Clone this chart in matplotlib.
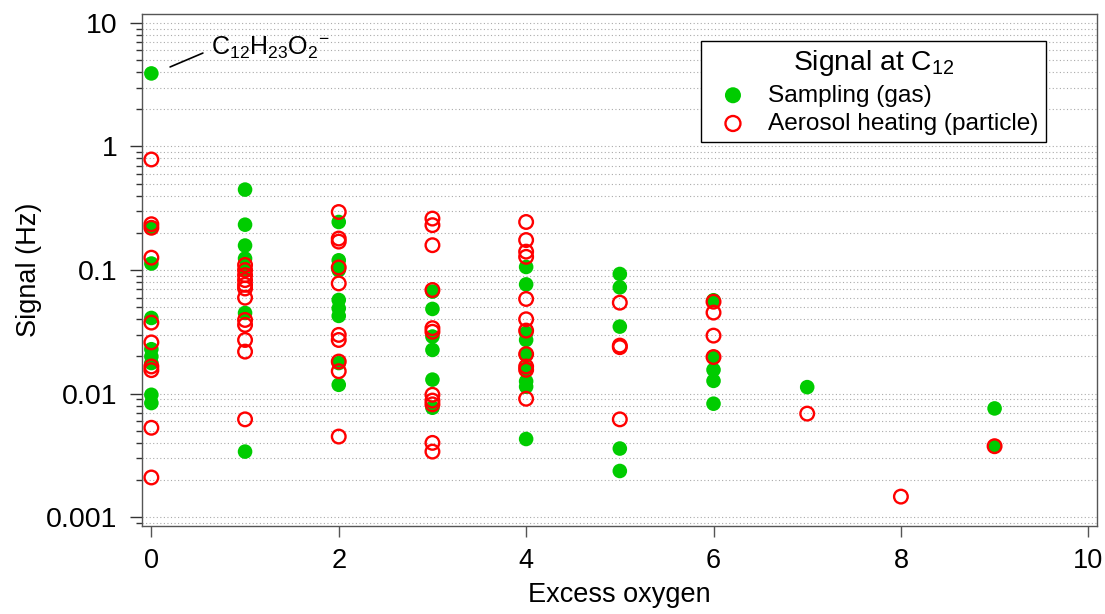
import matplotlib
matplotlib.use('Agg')
import matplotlib.pyplot as plt
from matplotlib.ticker import LogLocator, FuncFormatter, NullFormatter

plt.rcParams['font.family'] = ['Liberation Sans', 'DejaVu Sans']
plt.rcParams['mathtext.fontset'] = 'custom'
plt.rcParams['mathtext.rm'] = 'Liberation Sans'
plt.rcParams['mathtext.it'] = 'Liberation Sans'
plt.rcParams['mathtext.default'] = 'rm'

# sampling (gas)
gas_x = [0, 0, 0, 0, 0, 0, 0, 0, 0,
         1, 1, 1, 1, 1, 1, 1,
         2, 2, 2, 2, 2, 2, 2, 2,
         3, 3, 3, 3, 3, 3,
         4, 4, 4, 4, 4, 4, 4, 4, 4,
         5, 5, 5, 5, 5,
         6, 6, 6, 6, 6,
         7,
         9, 9]
gas_y = [3.9, 0.22, 0.113, 0.041, 0.0229, 0.0177, 0.0098, 0.0084, 0.020,
         0.448, 0.233, 0.158, 0.124, 0.100, 0.045, 0.0034,
         0.245, 0.120, 0.100, 0.0573, 0.049, 0.0426, 0.0177, 0.0118,
         0.067, 0.0485, 0.029, 0.0226, 0.013, 0.0077,
         0.106, 0.0766, 0.031, 0.0272, 0.0205, 0.016, 0.0126, 0.0114, 0.0043,
         0.093, 0.0725, 0.0349, 0.0036, 0.00237,
         0.057, 0.0198, 0.0156, 0.0127, 0.0083,
         0.0113,
         0.0076, 0.00376]

# aerosol heating (particle)
particle_x = [0, 0, 0, 0, 0, 0, 0, 0, 0, 0,
              1, 1, 1, 1, 1, 1, 1, 1, 1, 1, 1, 1,
              2, 2, 2, 2, 2, 2, 2, 2, 2, 2,
              3, 3, 3, 3, 3, 3, 3, 3, 3, 3, 3,
              4, 4, 4, 4, 4, 4, 4, 4, 4, 4, 4,
              5, 5, 5, 5,
              6, 6, 6, 6,
              7, 8, 9]
particle_y = [0.785, 0.235, 0.22, 0.126, 0.0376, 0.026, 0.0166, 0.0155, 0.0053, 0.0021,
              0.11, 0.1, 0.091, 0.083, 0.076, 0.071, 0.0598, 0.0395, 0.036, 0.0272, 0.0219, 0.0062,
              0.295, 0.18, 0.17, 0.105, 0.078, 0.0299, 0.0272, 0.0182, 0.0152, 0.0045,
              0.261, 0.231, 0.159, 0.069, 0.0339, 0.0317, 0.0098, 0.0088, 0.0082, 0.0040, 0.0034,
              0.245, 0.175, 0.141, 0.128, 0.0584, 0.040, 0.0324, 0.0209, 0.0166, 0.0156, 0.0091,
              0.0545, 0.0245, 0.0238, 0.0062,
              0.0555, 0.0453, 0.0295, 0.0198,
              0.0069, 0.00147, 0.00376]

x_ticks = [0, 2, 4, 6, 8, 10]

fig = plt.figure(figsize=(11.05, 6.14), dpi=100)
ax = fig.add_axes([0.1285, 0.1438, 0.8640, 0.8334])

ax.scatter(gas_x, gas_y, s=10.5**2, color='#00cc00', edgecolors='none',
           label='Sampling (gas)', zorder=3)
ax.scatter(particle_x, particle_y, s=9.8**2, facecolors='none', edgecolors='#ff0000',
           linewidths=1.7, label='Aerosol heating (particle)', zorder=4)

ax.set_yscale('log')
ax.set_xlim(-0.1, 10.09)
ax.set_ylim(0.000855, 11.8)
ax.set_xticks(x_ticks)
ax.yaxis.set_major_locator(LogLocator(base=10, numticks=10))
ax.yaxis.set_minor_locator(LogLocator(base=10, subs=range(2, 10), numticks=20))
ax.yaxis.set_major_formatter(FuncFormatter(lambda v, p: '%g' % v))
ax.yaxis.set_minor_formatter(NullFormatter())

ax.grid(True, axis='y', which='both', linestyle=(0, (1, 2.2)), color='#aaaaaa', linewidth=0.8)
ax.set_axisbelow(True)

ax.tick_params(axis='y', which='major', direction='out', length=8.5, width=1, labelsize=20.5, pad=9, color='#333333')
ax.tick_params(axis='y', which='minor', direction='out', length=4, width=1, color='#333333')
ax.tick_params(axis='x', direction='out', length=8, width=1, labelsize=19.5, pad=8, color='#555555')
for side in ['left', 'bottom', 'top', 'right']:
    ax.spines[side].set_color('#555555')
    ax.spines[side].set_linewidth(1)

ax.set_xlabel('Excess oxygen', fontsize=19.5, labelpad=6)
ax.set_ylabel('Signal (Hz)', fontsize=19.5, labelpad=3)

# label for the top gas point
ax.annotate('', xy=(0.2, 4.4), xytext=(0.55, 5.7),
            arrowprops=dict(arrowstyle='-', color='black', lw=1.2, shrinkA=0, shrinkB=0))
ax.text(0.64, 5.5, r'C$_{12}$H$_{23}$O$_{2}$$^{-}$', fontsize=18, ha='left', va='baseline')

leg = ax.legend(loc='upper right', bbox_to_anchor=(0.947, 0.947), fontsize=17.6,
                title='Signal at C$_{12}$', title_fontsize=20.3, frameon=True, fancybox=False,
                framealpha=1, edgecolor='black', borderpad=0.3, handletextpad=0.45,
                labelspacing=0.25, handlelength=2.0, borderaxespad=0, markerscale=1.1)
leg.get_frame().set_linewidth(1)

fig.savefig('out.png', dpi=100)
